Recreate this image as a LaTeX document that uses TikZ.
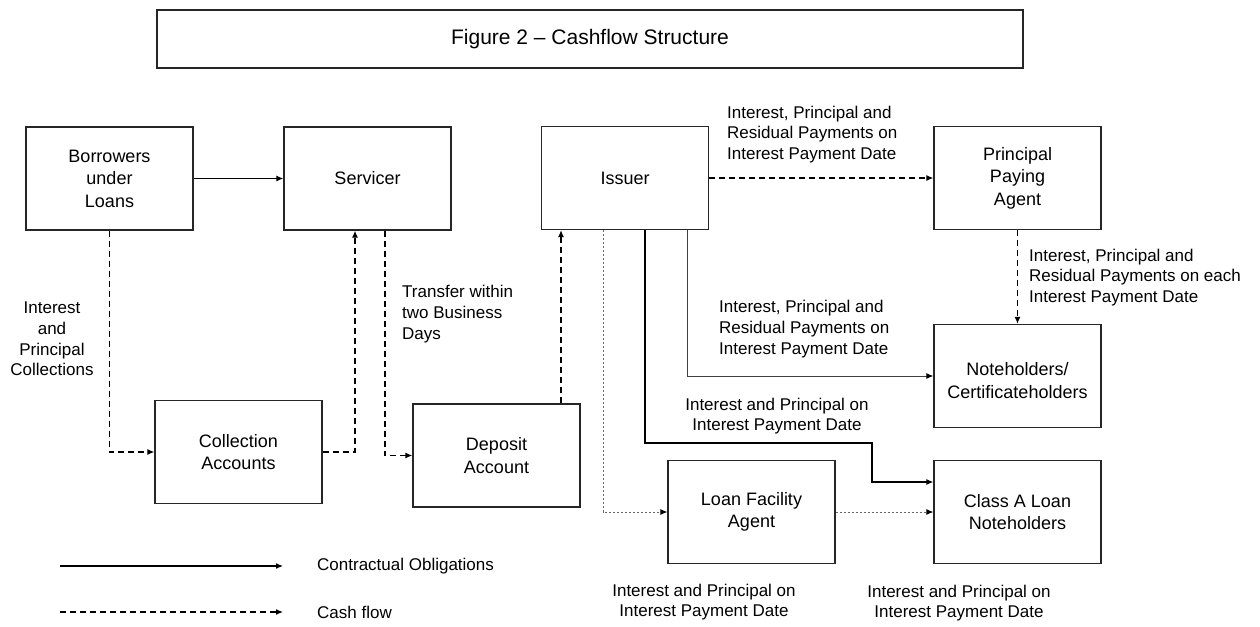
\documentclass[tikz,border=0pt]{standalone}
\usepackage{fontspec}
\setmainfont{Liberation Sans}
\usetikzlibrary{arrows.meta}

\tikzset{
  >={Latex[length=7pt,width=6pt]},
  box/.style={draw=black!85, line width=1.3pt, minimum width=167pt, minimum height=103pt,
    align=center, inner sep=2pt, font=\fontsize{18}{22.5}\selectfont},
  lbl/.style={align=left, inner sep=0pt, font=\fontsize{17}{20.7}\selectfont},
  oblig/.style={line width=1.2pt},
  thinline/.style={line width=1pt, black!75, -{Latex[length=7pt,width=6pt,color=black]}},
  cash/.style={line width=1.2pt, dash pattern=on 6pt off 4pt},
  dots/.style={line width=0.8pt, black!60, dash pattern=on 2pt off 2pt, -{Latex[length=7pt,width=6pt,color=black]}},
}

\begin{document}
\begin{tikzpicture}[x=1pt, y=-1pt]
    \useasboundingbox (0,0) rectangle (1260,626);
    % title
    \node (title) at (590,39) [draw=black!85, line width=1.3pt, minimum width=866pt, minimum height=58pt,
      font=\fontsize{21}{25}\selectfont] {Figure 2 -- Cashflow Structure};
    % parties
    \node (borrowers) at (109.5,178.5) [box] {Borrowers\\under\\Loans};
    \node (servicer) at (367.5,178.5) [box] {Servicer};
    \node (issuer) at (625,178) [box] {Issuer};
    \node (ppa) at (1017.5,178) [box] {Principal\\Paying\\Agent};
    \node (notes) at (1017.5,376) [box] {\rule{0pt}{22pt}Noteholders/\\Certificateholders};
    \node (classa) at (1017.5,512) [box] {Class A Loan\\Noteholders};
    \node (lfa) at (751.5,512) [box] {Loan Facility\\Agent};
    \node (collect) at (238.5,452) [box] {Collection\\Accounts};
    \node (deposit) at (496.5,455.5) [box] {Deposit\\Account};
    % flows
    \draw [oblig, ->] (borrowers) -- (servicer);
    \draw [cash, ->] (borrowers.south) |- (collect.west);
    \draw [cash, ->] (collect.east) -| ([xshift=-12.5pt]servicer.south);
    \draw [cash, ->] ([xshift=17.5pt]servicer.south) |- (deposit.west);
    \draw [cash, ->] ([xshift=-64pt]issuer.south |- deposit.north) -- ([xshift=-64pt]issuer.south);
    \draw [cash, ->] (issuer) -- (ppa);
    \draw [cash, ->] (ppa) -- (notes);
    \draw [thinline] ([xshift=62pt]issuer.south) |- (notes.west);
    \coordinate (bend) at (872,443);
    \draw [oblig, ->] ([xshift=20pt]issuer.south) |- (bend) |- ([yshift=30pt]classa.west);
    \draw [dots] ([xshift=-22pt]issuer.south) |- (lfa.west);
    \draw [dots] (lfa) -- (classa);
    % labels
    \node (lblcoll) at (52,339) [lbl, align=center] {Interest\\and\\Principal\\Collections};
    \node (lbltrans) at (402,314) [lbl, anchor=west] {Transfer within\\two Business\\Days};
    \node (lblppa) at (727,134.5) [lbl, anchor=west] {Interest, Principal and\\Residual Payments on\\Interest Payment Date};
    \node (lbleach) at (1029,277.5) [lbl, anchor=west] {Interest, Principal and\\Residual Payments on each\\Interest Payment Date};
    \node (lblnotes) at (719,329) [lbl, anchor=west] {Interest, Principal and\\Residual Payments on\\Interest Payment Date};
    \node (lblclassa) at (777,416) [lbl, align=center] {Interest and Principal on\\Interest Payment Date};
    \node (lbllfa) at (704,602) [lbl, align=center] {Interest and Principal on\\Interest Payment Date};
    \node (lblpay) at (959,603) [lbl, align=center] {Interest and Principal on\\Interest Payment Date};
    % legend
    \coordinate (solidA) at (60,566);
    \coordinate (solidB) at (283,566);
    \coordinate (dashA) at (60,612);
    \coordinate (dashB) at (283,612);
    \draw [oblig, ->] (solidA) -- (solidB);
    \draw [cash, ->] (dashA) -- (dashB);
    \node (legsolid) at (317,566) [lbl, anchor=west] {Contractual Obligations};
    \node (legcash) at (317,612) [lbl, anchor=west] {Cash flow};
\end{tikzpicture}
\end{document}
